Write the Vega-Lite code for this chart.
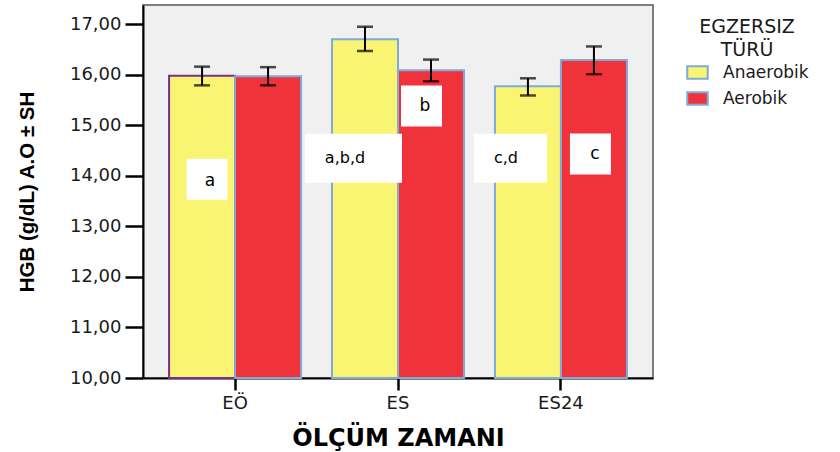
{
  "$schema": "https://vega.github.io/schema/vega-lite/v6.json",
  "width": 510,
  "height": 373,
  "autosize": "none",
  "padding": {"left": 143, "top": 5, "right": 187, "bottom": 74},
  "background": "white",
  "config": {
    "font": "DejaVu Sans",
    "view": {"fill": "#F0F0F0", "stroke": "#555555", "strokeWidth": 1.5},
    "axis": {"grid": false, "domainColor": "#000000", "domainWidth": 2, "tickColor": "#000000", "tickWidth": 2.5, "labelFont": "DejaVu Sans", "labelFontSize": 18, "labelColor": "#1a1a1a", "titleFontWeight": "bold", "titleColor": "#000000"}
  },
  "datasets": {
    "bars": [
      {"zaman": "EÖ", "tur": "Anaerobik", "ort": 15.98, "alt": 15.79, "ust": 16.16},
      {"zaman": "EÖ", "tur": "Aerobik", "ort": 15.97, "alt": 15.79, "ust": 16.15},
      {"zaman": "ES", "tur": "Anaerobik", "ort": 16.70, "alt": 16.47, "ust": 16.95},
      {"zaman": "ES", "tur": "Aerobik", "ort": 16.09, "alt": 15.87, "ust": 16.30},
      {"zaman": "ES24", "tur": "Anaerobik", "ort": 15.77, "alt": 15.59, "ust": 15.93},
      {"zaman": "ES24", "tur": "Aerobik", "ort": 16.29, "alt": 16.01, "ust": 16.56}
    ],
    "notes": [
      {"zaman": "EÖ", "tur": "Anaerobik", "label": "a", "y": 13.93},
      {"zaman": "ES", "tur": "Anaerobik", "label": "a,b,d", "y": 14.35},
      {"zaman": "ES", "tur": "Aerobik", "label": "b", "y": 15.38},
      {"zaman": "ES24", "tur": "Anaerobik", "label": "c,d", "y": 14.35},
      {"zaman": "ES24", "tur": "Aerobik", "label": "c", "y": 14.43}
    ]
  },
  "encoding": {
    "x": {
      "field": "zaman", "type": "nominal", "sort": ["EÖ", "ES", "ES24"],
      "scale": {"paddingInner": 0.19, "paddingOuter": 0.16},
      "axis": {"title": "ÖLÇÜM ZAMANI", "titleFont": "DejaVu Sans", "titleFontSize": 24, "titlePadding": 14, "labelAngle": 0, "labelPadding": 4, "tickSize": 12, "zindex": 0}
    }
  },
  "layer": [
    {
      "data": {"name": "bars"},
      "mark": {"type": "bar", "strokeWidth": 2},
      "encoding": {
        "xOffset": {"field": "tur", "type": "nominal", "sort": ["Anaerobik", "Aerobik"], "scale": {"paddingInner": 0, "paddingOuter": 0}},
        "y": {
          "field": "ort", "type": "quantitative",
          "scale": {"domain": [10, 17.38], "nice": false, "zero": false},
          "axis": {"title": "HGB (g/dL) A.O ± SH", "titleFont": "Liberation Sans", "titleFontSize": 20.5, "titlePadding": 32, "values": [10, 11, 12, 13, 14, 15, 16, 17], "tickSize": 18, "labelPadding": 4, "labelExpr": "replace(format(datum.value, '.2f'), '.', ',')", "zindex": 0}
        },
        "y2": {"datum": 10},
        "color": {
          "field": "tur", "type": "nominal",
          "scale": {"domain": ["Anaerobik", "Aerobik"], "range": ["#F9F572", "#F0333B"]},
          "legend": {
            "title": ["EGZERSIZ", "TÜRÜ"], "orient": "none", "legendX": 543, "legendY": 13,
            "titleFont": "DejaVu Sans", "titleFontSize": 19, "titleFontWeight": "normal", "titleColor": "#1a1a1a", "titleAlign": "center", "titleAnchor": "middle", "titleLineHeight": 23, "titlePadding": 1,
            "labelFont": "DejaVu Sans", "labelFontSize": 17, "labelColor": "#1a1a1a", "labelOffset": 14,
            "symbolType": "M-1,-0.62H1V0.62H-1Z", "symbolSize": 420, "symbolStrokeColor": "#80AAD8", "symbolStrokeWidth": 2, "symbolOpacity": 1,
            "rowPadding": 4
          }
        },
        "stroke": {
          "condition": {"test": "datum.zaman === 'EÖ' && datum.tur === 'Anaerobik'", "value": "#7B2E8C"},
          "value": "#80AAD8"
        }
      }
    },
    {
      "data": {"name": "bars"},
      "mark": {"type": "rule", "color": "#000000", "strokeWidth": 2},
      "encoding": {
        "xOffset": {"field": "tur", "type": "nominal", "sort": ["Anaerobik", "Aerobik"]},
        "y": {"field": "alt", "type": "quantitative"}, "y2": {"field": "ust"}
      }
    },
    {
      "data": {"name": "bars"},
      "mark": {"type": "tick", "color": "#000000", "thickness": 2.5, "size": 16, "orient": "horizontal"},
      "encoding": {
        "xOffset": {"field": "tur", "type": "nominal", "sort": ["Anaerobik", "Aerobik"]},
        "y": {"field": "ust", "type": "quantitative"}
      }
    },
    {
      "data": {"name": "bars"},
      "mark": {"type": "tick", "color": "#000000", "thickness": 2.5, "size": 16, "orient": "horizontal"},
      "encoding": {
        "xOffset": {"field": "tur", "type": "nominal", "sort": ["Anaerobik", "Aerobik"]},
        "y": {"field": "alt", "type": "quantitative"}
      }
    },
    {
      "data": {"name": "notes"},
      "transform": [{"filter": "datum.label === 'a'"}],
      "mark": {"type": "point", "shape": "square", "filled": true, "color": "white", "opacity": 1, "size": 1681, "xOffset": -28},
      "encoding": {"y": {"field": "y", "type": "quantitative"}}
    },
    {
      "data": {"name": "notes"},
      "transform": [{"filter": "datum.label === 'b'"}],
      "mark": {"type": "point", "shape": "square", "filled": true, "color": "white", "opacity": 1, "size": 1681, "xOffset": 23.5},
      "encoding": {"y": {"field": "y", "type": "quantitative"}}
    },
    {
      "data": {"name": "notes"},
      "transform": [{"filter": "datum.label === 'c'"}],
      "mark": {"type": "point", "shape": "square", "filled": true, "color": "white", "opacity": 1, "size": 1681, "xOffset": 29.5},
      "encoding": {"y": {"field": "y", "type": "quantitative"}}
    },
    {
      "data": {"name": "notes"},
      "transform": [{"filter": "datum.label === 'a,b,d'"}],
      "mark": {"type": "point", "shape": "M-1,-0.505H1V0.505H-1Z", "filled": true, "color": "white", "opacity": 1, "size": 9409, "xOffset": -44.5},
      "encoding": {"y": {"field": "y", "type": "quantitative"}}
    },
    {
      "data": {"name": "notes"},
      "transform": [{"filter": "datum.label === 'c,d'"}],
      "mark": {"type": "point", "shape": "M-1,-0.671H1V0.671H-1Z", "filled": true, "color": "white", "opacity": 1, "size": 5329, "xOffset": -50.5},
      "encoding": {"y": {"field": "y", "type": "quantitative"}}
    },
    {
      "data": {"name": "notes"},
      "transform": [{"filter": "datum.label === 'a'"}],
      "mark": {"type": "text", "font": "DejaVu Sans", "fontSize": 17, "color": "#000000", "xOffset": -25, "yOffset": 2},
      "encoding": {"y": {"field": "y", "type": "quantitative"}, "text": {"field": "label"}}
    },
    {
      "data": {"name": "notes"},
      "transform": [{"filter": "datum.label === 'b'"}],
      "mark": {"type": "text", "font": "DejaVu Sans", "fontSize": 17, "color": "#000000", "xOffset": 27},
      "encoding": {"y": {"field": "y", "type": "quantitative"}, "text": {"field": "label"}}
    },
    {
      "data": {"name": "notes"},
      "transform": [{"filter": "datum.label === 'c'"}],
      "mark": {"type": "text", "font": "DejaVu Sans", "fontSize": 17, "color": "#000000", "xOffset": 34},
      "encoding": {"y": {"field": "y", "type": "quantitative"}, "text": {"field": "label"}}
    },
    {
      "data": {"name": "notes"},
      "transform": [{"filter": "datum.label === 'a,b,d'"}],
      "mark": {"type": "text", "font": "DejaVu Sans", "fontSize": 16, "color": "#000000", "xOffset": -53},
      "encoding": {"y": {"field": "y", "type": "quantitative"}, "text": {"field": "label"}}
    },
    {
      "data": {"name": "notes"},
      "transform": [{"filter": "datum.label === 'c,d'"}],
      "mark": {"type": "text", "font": "DejaVu Sans", "fontSize": 16, "color": "#000000", "xOffset": -55},
      "encoding": {"y": {"field": "y", "type": "quantitative"}, "text": {"field": "label"}}
    }
  ]
}
